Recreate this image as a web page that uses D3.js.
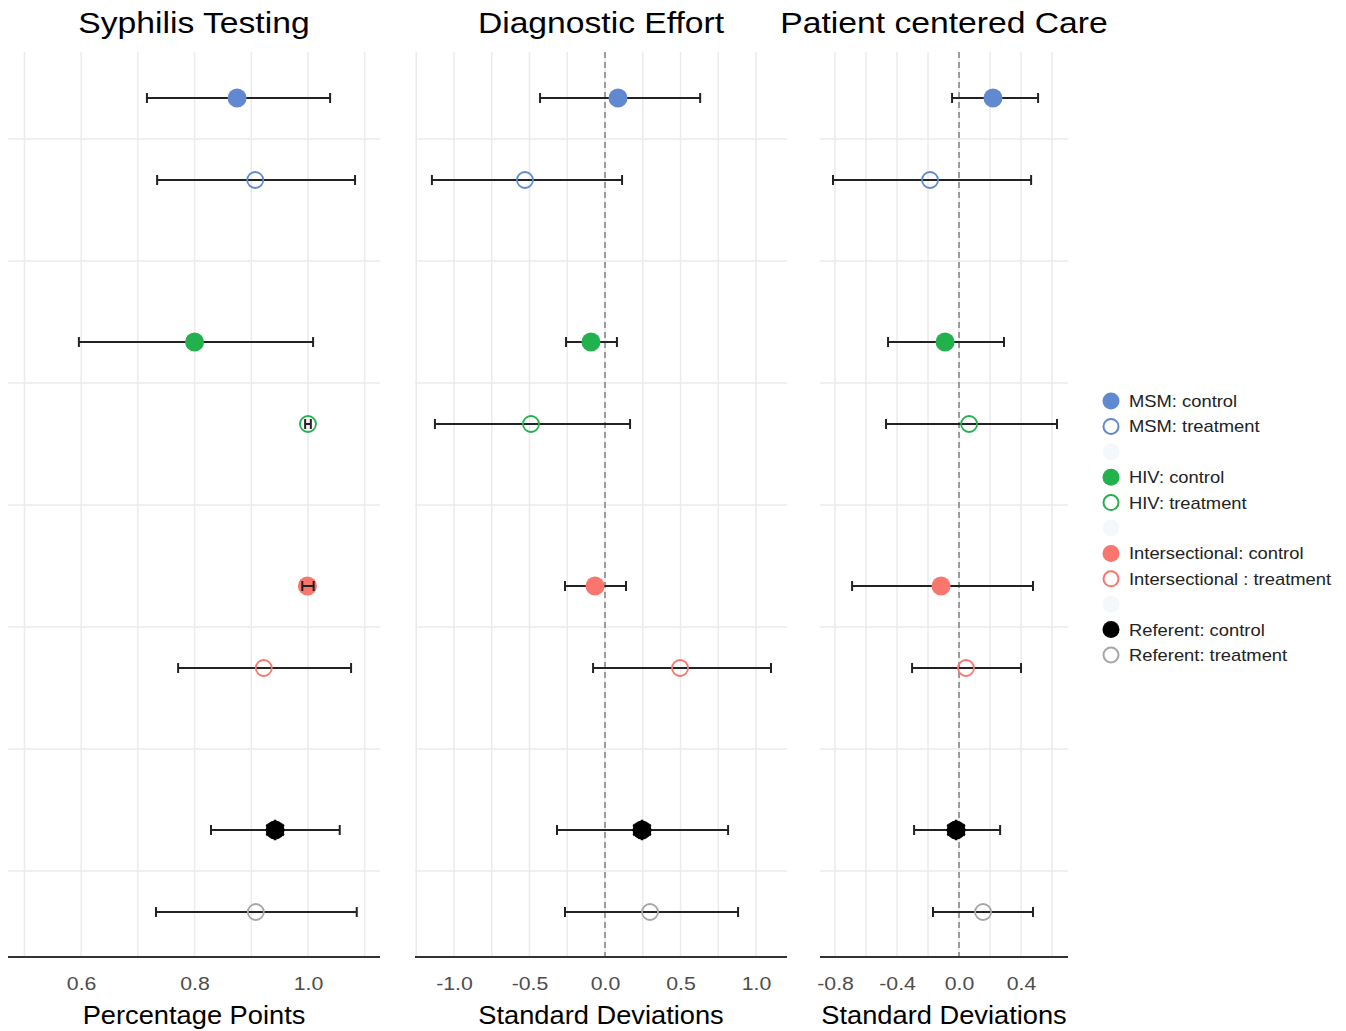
<!DOCTYPE html>
<html>
<head>
<meta charset="utf-8">
<script src="https://cdn.jsdelivr.net/npm/d3@7"></script>
<style>
  body { margin: 0; background: #fff; }
  text { font-family: "Liberation Sans", Arial, sans-serif; }
</style>
</head>
<body>
<svg id="chart" width="1346" height="1031"></svg>
<script>
// groups and arms (order top to bottom)
const groups = ["MSM", "HIV", "Intersectional", "Referent"];
const arms = ["control", "treatment"];

// estimates per row: MSM c, MSM t, HIV c, HIV t, Int c, Int t, Ref c, Ref t
const syphEst = [0.875, 0.907, 0.80, 1.0, 0.999, 0.922, 0.942, 0.908];
const syphLo  = [0.716, 0.734, 0.596, 0.995, 0.99, 0.771, 0.829, 0.732];
const syphHi  = [1.039, 1.083, 1.009, 1.005, 1.01, 1.076, 1.056, 1.086];

const diagEst = [0.086, -0.53, -0.093, -0.49, -0.066, 0.497, 0.245, 0.298];
const diagLo  = [-0.43, -1.146, -0.258, -1.126, -0.265, -0.079, -0.318, -0.265];
const diagHi  = [0.63, 0.113, 0.079, 0.166, 0.139, 1.099, 0.815, 0.881];

const pccEst = [0.219, -0.187, -0.09, 0.065, -0.116, 0.045, -0.019, 0.155];
const pccLo  = [-0.045, -0.813, -0.458, -0.471, -0.69, -0.303, -0.29, -0.168];
const pccHi  = [0.51, 0.465, 0.29, 0.632, 0.477, 0.40, 0.265, 0.477];

const groupColors = ["#6189d1", "#22b14c", "#f8766d", "#000000"];
const treatColors = ["#6189d1", "#22b14c", "#f8766d", "#a6a6a6"];

const legendLabels = [
    "MSM: control", "MSM: treatment", null,
    "HIV: control", "HIV: treatment", null,
    "Intersectional: control", "Intersectional : treatment", null,
    "Referent: control", "Referent: treatment"
];

const panels = [
    { title: "Syphilis Testing", xlab: "Percentage Points", est: syphEst, lo: syphLo, hi: syphHi,
      domain: [0.471, 1.127], range: [8, 380], ticks: [0.6, 0.8, 1.0], grid: d3.range(0.5, 1.11, 0.1), zero: false },
    { title: "Diagnostic Effort", xlab: "Standard Deviations", est: diagEst, lo: diagLo, hi: diagHi,
      domain: [-1.258, 1.205], range: [415, 787], ticks: [-1, -0.5, 0, 0.5, 1], grid: d3.range(-1.25, 1.21, 0.25), zero: true },
    { title: "Patient centered Care", xlab: "Standard Deviations", est: pccEst, lo: pccLo, hi: pccHi,
      domain: [-0.897, 0.703], range: [820, 1068], ticks: [-0.8, -0.4, 0, 0.4], grid: d3.range(-0.8, 0.61, 0.2), zero: true }
];

let svg = d3.select("#chart");
let plotTop = 52, plotBottom = 957;
let rFill = 9.5, rOpen = 8;

// stretch text a bit horizontally, the reference is wider than plain Arial
function stretch(sel, k) {
    sel.each(function () {
        let len = this.getComputedTextLength();
        d3.select(this).attr("textLength", len * k).attr("lengthAdjust", "spacingAndGlyphs");
    });
}

let y = d3.scalePoint().domain(groups).range([139, 871]);
let dodge = d3.scalePoint().domain(arms).range([-41, 41]);

// rows built from the arrays
function rows(p) {
    let out = [];
    groups.forEach((g, gi) => {
        arms.forEach((a, ai) => {
            let i = gi * 2 + ai;
            out.push({ group: g, gi: gi, arm: a, est: p.est[i], lo: p.lo[i], hi: p.hi[i] });
        });
    });
    return out;
}

panels.forEach((p) => {
    let x = d3.scaleLinear().domain(p.domain).range(p.range);
    let g = svg.append("g");

    // vertical grid
    g.selectAll("line.vg")
        .data(p.grid)
        .enter()
        .append("line")
        .attr("x1", d => x(d)).attr("x2", d => x(d))
        .attr("y1", plotTop).attr("y2", plotBottom)
        .style("stroke", "#ebebeb").style("stroke-width", 1.5);

    // horizontal grid: group centers and midpoints
    let hgrid = [];
    groups.forEach((gr, i) => {
        hgrid.push(y(gr));
        if (i < groups.length - 1) hgrid.push((y(gr) + y(groups[i + 1])) / 2);
    });
    g.selectAll("line.hg")
        .data(hgrid)
        .enter()
        .append("line")
        .attr("x1", p.range[0]).attr("x2", p.range[1])
        .attr("y1", d => d).attr("y2", d => d)
        .style("stroke", "#ebebeb").style("stroke-width", 1.5);

    if (p.zero) {
        g.append("line")
            .attr("x1", x(0)).attr("x2", x(0))
            .attr("y1", plotTop).attr("y2", plotBottom)
            .style("stroke", "#808080").style("stroke-width", 1.5)
            .style("stroke-dasharray", "6,4");
    }

    let data = rows(p);
    let bars = g.selectAll("g.bar").data(data).enter().append("g")
        .attr("transform", d => `translate(0,${y(d.group) + dodge(d.arm)})`);

    bars.append("line")
        .attr("x1", d => x(d.lo)).attr("x2", d => x(d.hi))
        .style("stroke", "#222").style("stroke-width", 2);

    bars.append("circle")
        .attr("cx", d => x(d.est))
        .attr("r", d => d.arm === "control" ? rFill : rOpen)
        .attr("fill", d => d.arm === "control" ? groupColors[d.gi] : "none")
        .attr("stroke", d => d.arm === "control" ? "none" : treatColors[d.gi])
        .attr("stroke-width", 1.8);

    // spiky look on the black referent marker
    bars.filter(d => d.gi === 3 && d.arm === "control")
        .append("path")
        .attr("transform", d => `translate(${x(d.est)},0)`)
        .attr("d", d3.symbol().type(d3.symbolAsterisk).size(300))
        .style("stroke", "#000").style("stroke-width", 2.5);

    // very narrow intervals show on top of the point
    bars.filter(d => x(d.hi) - x(d.lo) < 2 * rFill)
        .append("line")
        .attr("x1", d => x(d.lo)).attr("x2", d => x(d.hi))
        .style("stroke", "#222").style("stroke-width", 2);

    // caps
    bars.append("line")
        .attr("x1", d => x(d.lo)).attr("x2", d => x(d.lo))
        .attr("y1", -5).attr("y2", 5)
        .style("stroke", "#222").style("stroke-width", 2);
    bars.append("line")
        .attr("x1", d => x(d.hi)).attr("x2", d => x(d.hi))
        .attr("y1", -5).attr("y2", 5)
        .style("stroke", "#222").style("stroke-width", 2);

    // axis line
    g.append("line")
        .attr("x1", p.range[0]).attr("x2", p.range[1])
        .attr("y1", plotBottom).attr("y2", plotBottom)
        .style("stroke", "#333").style("stroke-width", 2);

    let axis = g.append("g")
        .attr("transform", `translate(0,${plotBottom})`)
        .call(d3.axisBottom(x).tickValues(p.ticks).tickSize(0).tickPadding(20).tickFormat(d3.format(".1f")));
    axis.select(".domain").remove();
    axis.selectAll("text")
        .style("font-family", "Liberation Sans, Arial, sans-serif")
        .style("font-size", "19px")
        .attr("fill", "#4d4d4d")
        .text(d => d3.format(".1f")(d).replace("−", "-"))
        .call(stretch, 1.12);

    let cx = (p.range[0] + p.range[1]) / 2;
    g.append("text")
        .attr("x", cx).attr("y", 33)
        .attr("text-anchor", "middle")
        .style("font-size", "29px")
        .attr("fill", "#000")
        .text(p.title)
        .call(stretch, 1.16);

    g.append("text")
        .attr("x", cx).attr("y", 1024)
        .attr("text-anchor", "middle")
        .style("font-size", "25px")
        .attr("fill", "#000")
        .text(p.xlab)
        .call(stretch, 1.09);
});

// legend
let legend = svg.append("g").attr("transform", "translate(1111,401)");
let legendRows = [];
legendLabels.forEach((lab, i) => {
    legendRows.push({ label: lab, y: i * 25.4 });
});
let items = legend.selectAll("g").data(legendRows).enter().append("g")
    .attr("transform", d => `translate(0,${d.y})`);

items.each(function (d, i) {
    let sel = d3.select(this);
    if (d.label === null) {
        sel.append("circle").attr("r", 8.5).attr("fill", "#f5f8fa");
        return;
    }
    let gi = Math.floor(i / 3);
    let isControl = (i % 3) === 0;
    if (isControl) {
        sel.append("circle").attr("r", 8.5).attr("fill", groupColors[gi]);
    } else {
        sel.append("circle").attr("r", 7.5).attr("fill", "none")
            .attr("stroke", treatColors[gi]).attr("stroke-width", 2);
    }
    sel.append("text")
        .attr("x", 18).attr("y", 6)
        .style("font-size", "17px")
        .attr("fill", "#222")
        .text(d.label)
        .call(stretch, 1.08);
});
</script>
</body>
</html>
